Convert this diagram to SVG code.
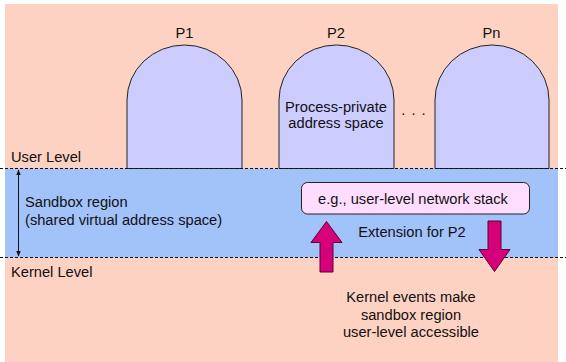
<svg xmlns="http://www.w3.org/2000/svg" width="566" height="362" viewBox="0 0 566 362">
<style>
text{font-family:"Liberation Sans",Arial,sans-serif;font-size:14.67px;fill:#111}
.c{text-anchor:middle}
.proc{fill:#CCCCFF;stroke:#222;stroke-width:1}
.dash{stroke:#111;stroke-width:1;stroke-dasharray:3,2;fill:none}
.fat{fill:#D6007A;stroke:#5a0030;stroke-width:1}
</style>
<defs>
<marker id="ah" viewBox="0 0 10 10" refX="9" refY="5" markerWidth="6" markerHeight="6" orient="auto-start-reverse">
<path d="M0,1 L10,5 L0,9 z" fill="#111"/>
</marker>
</defs>
<g id="background">
<rect x="5" y="4" width="553" height="358" fill="#FDD2C2"/>
<rect x="5" y="168.5" width="553" height="89" fill="#A2C2FA"/>
</g>
<g id="P1">
<path class="proc" d="M127,168.5 V100 A57.5,55 0 0 1 242,100 V168.5 Z"/>
<text class="c" x="184.5" y="38">P1</text>
</g>
<g id="P2">
<path class="proc" d="M279,168.5 V100 A57.5,55 0 0 1 394,100 V168.5 Z"/>
<text class="c" x="336" y="38">P2</text>
<text class="c" x="336" y="112">Process-private</text>
<text class="c" x="336" y="128">address space</text>
</g>
<g id="Pn">
<path class="proc" d="M435,168.5 V100 A57,55 0 0 1 549,100 V168.5 Z"/>
<text class="c" x="491.5" y="38">Pn</text>
</g>
<g id="dots">
<text class="c" x="414" y="115" letter-spacing="1">. . .</text>
</g>
<g id="levels">
<text x="11" y="162">User Level</text>
<text x="11" y="277">Kernel Level</text>
<text x="25" y="207">Sandbox region</text>
<text x="25" y="225">(shared virtual address space)</text>
</g>
<g id="extension">
<rect x="301.5" y="182.5" width="228" height="31.5" rx="6" ry="6" fill="#FFDDFF" stroke="#222" stroke-width="1"/>
<text class="c" x="413" y="204">e.g., user-level network stack</text>
<text class="c" x="412" y="237">Extension for P2</text>
</g>
<g id="kernel-note">
<text class="c" x="411" y="302">Kernel events make</text>
<text class="c" x="411" y="320">sandbox region</text>
<text class="c" x="411" y="337">user-level accessible</text>
</g>
<g id="connectors">
<line class="dash" x1="0" y1="168.5" x2="566" y2="168.5"/>
<line class="dash" x1="0" y1="257.5" x2="566" y2="257.5"/>
<line x1="18.5" y1="170" x2="18.5" y2="256" stroke="#111" stroke-width="1" marker-start="url(#ah)" marker-end="url(#ah)"/>
<path class="fat" d="M326.5,221.5 L342,242.5 L333,242.5 L333,272 L320,272 L320,242.5 L311,242.5 Z"/>
<path class="fat" d="M488,221 L501,221 L501,249.5 L510,249.5 L494.5,271.5 L479,249.5 L488,249.5 Z"/>
</g>
</svg>
